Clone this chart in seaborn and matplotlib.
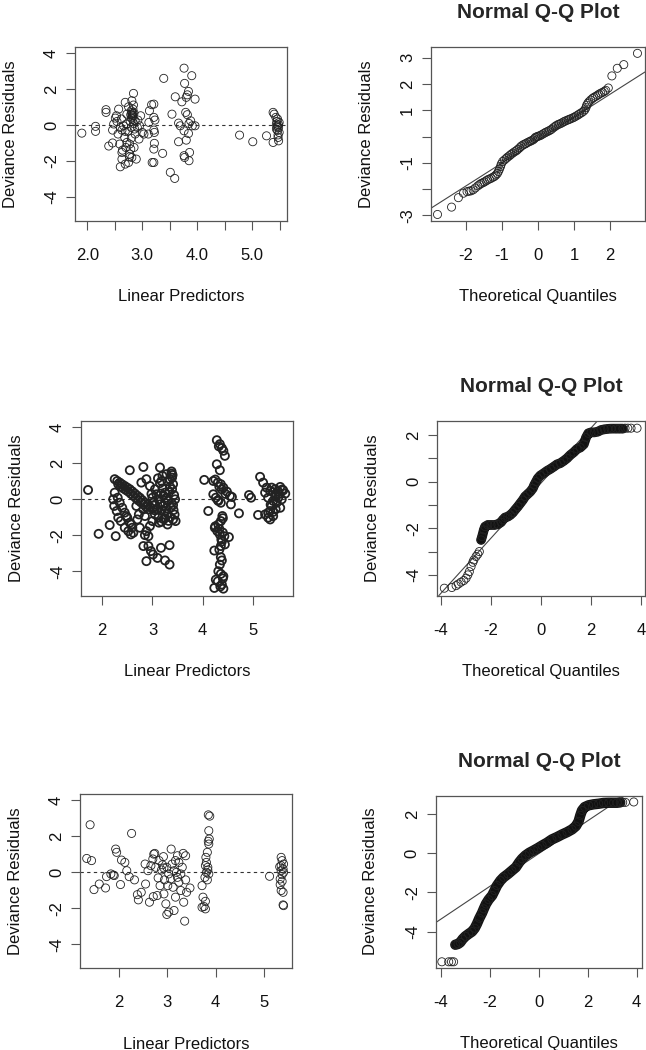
import matplotlib
matplotlib.use('Agg')
import matplotlib.pyplot as plt
import seaborn as sns

# ---------------- data ----------------
# row 1: deviance residuals vs linear predictors
lp1 = [1.90, 2.15, 2.15, 2.34, 2.34, 2.39, 2.46, 2.46, 2.48, 2.51, 2.53, 2.54, 2.56, 2.57,
       2.59, 2.60, 2.60, 2.62, 2.63, 2.63, 2.63, 2.64, 2.66, 2.68, 2.69, 2.69, 2.69, 2.70,
       2.71, 2.72, 2.72, 2.74, 2.75, 2.75, 2.77, 2.77, 2.77, 2.78, 2.79, 2.79, 2.80, 2.80,
       2.80, 2.80, 2.81, 2.81, 2.81, 2.81, 2.82, 2.82, 2.83, 2.83, 2.83, 2.83, 2.84, 2.84,
       2.84, 2.85, 2.85, 2.86, 2.87, 2.87, 2.89, 2.91, 2.92, 2.94, 2.95, 2.97, 3.00, 3.03,
       3.11, 3.12, 3.13, 3.17, 3.18, 3.21, 3.21, 3.21, 3.21, 3.21, 3.22, 3.22, 3.23, 3.37,
       3.39, 3.51, 3.54, 3.59, 3.60, 3.66, 3.66, 3.69, 3.72, 3.76, 3.76, 3.76, 3.77, 3.77,
       3.79, 3.80, 3.80, 3.82, 3.82, 3.84, 3.84, 3.85, 3.85, 3.86, 3.88, 3.90, 3.91, 3.96,
       3.96, 4.77, 5.01, 5.26, 5.38, 5.38, 5.40, 5.43, 5.44, 5.44, 5.45, 5.46, 5.46, 5.47,
       5.48, 5.48, 5.49, 5.49, 5.46, 5.47, 5.45, 5.48]
res1 = [-0.45, -0.07, -0.35, 0.86, 0.71, -1.17, -1.00, -0.28, 0.06, 0.39, 0.52, 0.20, -0.50, 0.89,
        -1.06, -0.13, -2.33, 0.34, -1.90, -1.53, -0.28, -1.40, -0.04, -0.69, 1.27, -0.35, -2.18, -1.25,
        0.06, 0.61, -0.97, -0.35, -2.09, 1.02, -1.62, -1.06, -1.77, 0.20, -1.34, 0.58, 0.80, 0.39,
        -0.73, -0.13, 1.36, 0.61, 0.71, -1.81, 0.45, 0.55, 0.52, 0.34, 0.89, 0.65, 1.77, 1.12,
        0.09, 0.67, -1.25, -0.22, -0.50, 0.24, -1.90, -0.13, 0.28, -0.78, -0.04, 0.52, -0.41, -0.50,
        -0.50, 0.15, 0.80, 1.14, -2.09, 1.17, 0.43, -0.28, -1.34, -2.09, -0.41, -1.02, 0.28, -1.58,
        2.61, -2.64, 0.61, -2.98, 1.58, -0.93, 0.11, -0.04, 1.30, 3.18, -0.32, -1.71, 2.33, -1.81,
        0.71, 1.55, -0.84, 1.69, 0.58, 1.88, -0.47, 0.09, -1.99, -1.53, 0.24, 2.76, -0.04, 1.45,
        -0.04, -0.56, -0.93, -0.60, 0.71, -0.97, 0.61, 0.43, 0.06, -0.22, 0.20, 0.34, -0.04, -0.69,
        -0.88, -0.13, -0.41, 0.15, -0.30, -0.55, -0.10, 0.02]

# row 2
lp2 = [1.72, 1.93, 2.15, 2.27, 2.22, 2.24, 2.29, 2.32, 2.37, 2.45, 2.52, 2.48, 2.58, 2.62, 2.75,
       2.25, 2.35, 2.45, 2.55, 2.65, 2.75, 2.85, 2.95, 3.04,
       2.32, 2.42, 2.52, 2.62, 2.72, 2.82, 2.92,
       2.25, 2.31, 2.35, 2.40, 2.45, 2.50, 2.55, 2.60, 2.57,
       2.55, 2.82, 2.88, 2.78, 2.95, 3.15, 3.11, 3.18, 3.38, 3.39, 3.41, 3.39, 3.43, 3.45, 3.41,
       3.35, 3.41, 3.46, 3.30, 3.05, 3.08, 3.12, 3.15, 3.10, 3.05, 3.12, 3.18, 3.00, 2.95, 2.88,
       2.92, 2.85, 3.25, 3.28, 3.21, 3.26, 3.31, 3.17, 3.00, 3.02, 2.82, 2.92, 2.97, 3.01, 3.10,
       2.88, 3.25, 3.34, 3.34, 3.17, 2.70, 2.73, 2.85, 2.82, 2.68,
       3.20, 3.22, 3.25, 3.28, 3.30, 3.18, 3.15, 3.35, 3.33, 3.38, 3.36, 3.30, 3.20, 3.42, 3.44,
       3.05, 3.08, 3.13, 3.22, 2.98, 3.35, 3.38, 3.40, 3.28, 3.25, 3.32,
       2.30, 2.40, 2.50, 2.60, 2.70, 2.80, 2.90, 3.00, 2.37, 2.47, 2.57, 2.67, 2.77, 2.87,
       4.03, 4.11, 4.28, 4.34, 4.38, 4.41, 4.44, 4.28, 4.34, 4.21, 4.30, 4.36, 4.41, 4.48, 4.54,
       4.58, 4.21, 4.26, 4.31, 4.36, 4.56, 4.72, 4.39, 4.36, 4.31, 4.24, 4.29, 4.34, 4.43, 4.52,
       4.37, 4.44, 4.36, 4.23, 4.36, 4.34, 4.31, 4.36, 4.41, 4.26, 4.30, 4.23, 4.41, 4.38,
       4.25, 4.33, 4.40, 4.38, 4.33, 4.38, 4.40, 4.35, 4.32, 4.25, 4.33, 4.38, 4.45, 4.30, 4.40,
       4.92, 4.96, 5.14, 5.20, 5.27, 5.34, 5.44, 5.54, 5.60, 5.64, 5.50, 5.40, 5.37, 5.34, 5.40,
       5.30, 5.24, 5.10, 5.54, 5.47, 5.57, 5.30, 5.24, 5.37, 5.44, 5.50, 5.34,
       5.45, 5.52, 5.40, 5.35, 5.45, 5.30, 5.58, 5.40]
res2 = [0.52, -1.92, -1.43, -2.05, 0.00, -0.37, -0.65, -1.02, -1.21, -1.58, -1.77, -0.93, -1.40, -1.86, -1.58,
        1.12, 0.93, 0.74, 0.56, 0.32, 0.09, -0.19, -0.43, -0.61,
        0.84, 0.61, 0.43, 0.19, -0.06, -0.28, -0.56,
        0.37, 0.09, -0.19, -0.47, -0.74, -1.02, -1.30, -1.58, -1.95,
        1.62, 1.80, 1.12, 0.93, 0.74, 1.77, 1.17, 1.02, 1.43, 1.21, 0.84, 0.56, 0.24, 0.00, -0.32,
        -0.99, -1.12, -1.21, -1.40, 0.56, 0.28, 0.00, -0.28, -0.56, -0.84, -1.02, -1.25, -1.21, -1.49, -1.77,
        -2.05, -1.99, 0.37, 0.09, -0.37, -0.65, -0.09, 0.32, 0.09, -0.19, -2.60, -2.60, -2.88, -3.07, -3.26,
        -3.44, -3.40, -3.63, -2.55, -2.70, -1.12, -0.84, -0.93, -0.56, -0.37,
        0.60, 0.20, -0.20, -0.50, -0.80, -0.60, 0.90, 0.70, 0.40, -0.20, -0.45, 1.00, 1.30, -0.60, -0.85,
        -0.30, -0.55, -1.30, -1.10, 0.30, 1.10, 1.55, 1.35, 1.40, -1.05, -1.20,
        1.02, 0.83, 0.65, 0.44, 0.20, -0.05, -0.31, -0.52, 0.72, 0.52, 0.31, 0.07, -0.17, -0.42,
        1.08, -0.65, 3.29, 3.07, 2.85, 2.70, 2.42, 1.95, 1.62, 1.02, 0.93, 0.84, 0.65, 0.43, 0.19,
        0.13, 0.28, 0.09, -0.09, -0.19, -0.28, -0.78, -0.93, -1.21, -1.40, -1.58, -1.77, -1.95, -2.05, -2.10,
        -2.23, -2.51, -2.60, -2.85, -3.22, -3.63, -4.00, -4.15, -4.28, -4.47, -4.56, -4.93, -4.97, -4.74,
        -1.50, -1.65, -1.85, -2.35, -2.80, -3.40, -4.40, -4.85, 2.95, 1.10, 0.70, 0.55, 0.30, -0.05, -1.05,
        0.24, 0.09, 1.25, 0.93, 0.65, 0.47, 0.28, 0.69, 0.50, 0.32, 0.09, -0.09, -0.37, -0.65, -0.93,
        -1.02, -0.84, -0.87, -0.47, -0.19, 0.00, 0.09, 0.37, 0.65, 0.56, 0.43, -1.12,
        0.15, 0.30, 0.40, -0.30, -0.55, -0.75, 0.55, -0.70]

# row 3
lp3 = [1.40, 1.33, 1.43, 1.48, 1.59, 1.72, 1.74, 1.83, 1.88, 1.90, 1.93, 1.95, 2.03, 2.05, 2.12,
       2.16, 2.21, 2.26, 2.32, 2.38, 2.40, 2.46, 2.54, 2.55, 2.60, 2.63, 2.66, 2.70, 2.72, 2.74,
       2.76, 2.71, 2.79, 2.81, 2.85, 2.88, 2.92, 2.93, 2.94, 2.97, 2.99, 3.03, 3.08, 3.10, 3.12,
       3.14, 3.17, 3.21, 3.19, 3.21, 3.24, 3.28, 3.31, 3.33, 3.34, 3.36, 3.38, 3.38, 3.40, 3.47,
       2.99, 3.03, 3.07, 3.14, 3.24, 3.28, 2.83, 2.90, 3.01, 3.17, 2.93,
       3.85, 3.88, 3.86, 3.87, 3.85, 3.86, 3.83, 3.81, 3.79, 3.84, 3.81, 3.86, 3.78, 3.83, 3.72,
       3.74, 3.79, 3.72, 3.79, 3.76, 3.84, 3.80,
       5.12, 5.36, 5.38, 5.36, 5.40, 5.36, 5.41, 5.38, 5.34, 5.38, 5.34, 5.36, 5.40, 5.40, 5.41,
       5.33, 5.41]
res3 = [2.64, 0.77, 0.65, -0.96, -0.65, -0.87, -0.24, -0.09, -0.15, -0.18, 1.29, 1.11, -0.68, 0.68, 0.55,
        0.09, -0.24, 2.16, -0.42, -1.24, -1.53, -1.11, 0.46, -0.65, 0.09, -1.66, 0.37, 0.74, 1.01, 1.05,
        0.28, -1.35, -1.29, -0.31, -0.74, 0.13, 0.87, 0.24, -0.42, -1.75, -2.34, -2.21, 1.29, 0.46, -0.83,
        -2.12, 0.65, 0.92, 0.00, -0.28, -0.55, -1.01, 0.28, 1.05, -1.66, -2.71, 0.92, -0.42, -1.11, -0.87,
        0.28, -0.09, -0.37, 0.09, 0.55, -0.09, 0.65, 0.42, -0.74, -1.38, -1.20,
        3.19, 3.12, 2.31, 1.85, 1.72, 1.57, 1.11, 0.55, 0.37, 0.13, 0.00, -0.09, -0.28, -0.42, -0.74,
        -1.38, -1.61, -1.94, -2.03, -1.90, 0.28, 0.83,
        -0.22, 0.83, 0.65, 0.37, 0.18, 0.09, 0.00, -0.13, -0.37, -0.50, -0.68, -1.01, -1.11, -1.81, -1.85,
        0.31, 0.46]

# normal Q-Q plots: theoretical quantile / sorted residual pairs
qq1_x = [-2.79, -2.40, -2.21, -2.07, -1.97, -1.91, -1.86, -1.80, -1.74, -1.67, -1.62, -1.58, -1.53,
         -1.49, -1.44, -1.40, -1.35, -1.30, -1.25, -1.21, -1.17, -1.13, -1.10, -1.07, -1.04, -1.02,
         -0.98, -0.93, -0.88, -0.84, -0.79, -0.75, -0.70, -0.65, -0.60, -0.56, -0.51, -0.47, -0.42,
         -0.37, -0.33, -0.28, -0.23, -0.19, -0.14, -0.10, -0.07, -0.03, 0.00, 0.05, 0.09, 0.14, 0.19,
         0.23, 0.28, 0.32, 0.37, 0.42, 0.47, 0.51, 0.56, 0.60, 0.65, 0.70, 0.74, 0.79, 0.84, 0.88,
         0.93, 0.98, 1.02, 1.07, 1.12, 1.16, 1.21, 1.26, 1.30, 1.33, 1.35, 1.38, 1.41, 1.46, 1.51,
         1.55, 1.60, 1.65, 1.69, 1.74, 1.79, 1.84, 1.88, 1.95, 2.05, 2.20, 2.38, 2.76]
qq1_y = [-2.97, -2.69, -2.33, -2.16, -2.10, -2.08, -2.07, -2.03, -1.96, -1.88, -1.83, -1.79, -1.76,
         -1.73, -1.69, -1.65, -1.62, -1.59, -1.55, -1.52, -1.47, -1.41, -1.33, -1.24, -1.14, -1.05,
         -0.95, -0.89, -0.83, -0.78, -0.73, -0.68, -0.63, -0.58, -0.54, -0.49, -0.43, -0.37, -0.32,
         -0.29, -0.26, -0.22, -0.19, -0.16, -0.13, -0.08, -0.03, -0.01, 0.01, 0.03, 0.06, 0.10, 0.14,
         0.17, 0.20, 0.23, 0.27, 0.33, 0.38, 0.42, 0.46, 0.48, 0.51, 0.55, 0.58, 0.61, 0.64, 0.66,
         0.69, 0.72, 0.75, 0.79, 0.83, 0.87, 0.91, 0.96, 1.02, 1.10, 1.19, 1.26, 1.32, 1.39, 1.45,
         1.49, 1.53, 1.57, 1.61, 1.65, 1.68, 1.72, 1.76, 1.85, 2.31, 2.60, 2.74, 3.17]

qq2_x = [-3.87, -3.57, -3.40, -3.31, -3.20, -3.09, -3.00, -2.93, -2.87, -2.80, -2.73, -2.69, -2.60,
         -2.53, -2.47, -2.40, -2.36, -2.29, -2.24, -2.13, -2.00, -1.87, -1.73, -1.60, -1.53, -1.44,
         -1.33, -1.23, -1.13, -1.04, -0.93, -0.83, -0.73, -0.64, -0.53, -0.43, -0.33, -0.27, -0.20,
         -0.13, -0.03, 0.11, 0.24, 0.37, 0.51, 0.64, 0.77, 0.91, 1.04, 1.17, 1.31, 1.44, 1.57, 1.71,
         1.80, 1.89, 2.00, 2.13, 2.27, 2.40, 2.53, 2.67, 2.80, 3.00, 3.13, 3.27, 3.36, 3.47, 3.60, 3.84]
qq2_y = [-4.57, -4.54, -4.46, -4.39, -4.31, -4.24, -4.14, -4.00, -3.86, -3.64, -3.46, -3.36, -3.21,
         -3.11, -3.00, -2.50, -2.36, -2.07, -1.93, -1.86, -1.86, -1.86, -1.83, -1.74, -1.64, -1.54,
         -1.50, -1.43, -1.33, -1.21, -1.07, -0.93, -0.79, -0.64, -0.53, -0.43, -0.29, -0.14, 0.00,
         0.14, 0.26, 0.36, 0.46, 0.54, 0.64, 0.74, 0.79, 0.89, 1.00, 1.14, 1.26, 1.40, 1.46, 1.60,
         1.89, 2.07, 2.11, 2.11, 2.14, 2.21, 2.24, 2.26, 2.27, 2.27, 2.27, 2.27, 2.29, 2.29, 2.29, 2.29]

qq3_x = [-3.95, -3.67, -3.56, -3.47, -3.40, -3.29, -3.20, -3.10, -2.99, -2.86, -2.72, -2.61, -2.52,
         -2.42, -2.31, -2.24, -2.15, -2.04, -1.90, -1.80, -1.70, -1.56, -1.43, -1.25, -1.09, -0.93,
         -0.79, -0.68, -0.54, -0.38, -0.20, -0.03, 0.14, 0.34, 0.54, 0.75, 0.95, 1.16, 1.36, 1.52,
         1.63, 1.70, 1.77, 1.88, 2.04, 2.24, 2.45, 2.65, 2.86, 3.06, 3.20, 3.33, 3.43, 3.54, 3.88]
qq3_y = [-5.54, -5.54, -5.54, -5.54, -4.67, -4.63, -4.55, -4.38, -4.24, -4.12, -4.00, -3.83, -3.61,
         -3.32, -3.05, -2.84, -2.59, -2.37, -2.16, -1.91, -1.65, -1.40, -1.23, -1.06, -0.89, -0.72,
         -0.46, -0.29, -0.12, 0.02, 0.14, 0.26, 0.39, 0.53, 0.70, 0.82, 0.95, 1.07, 1.21, 1.38,
         1.62, 1.93, 2.18, 2.35, 2.44, 2.49, 2.52, 2.56, 2.57, 2.57, 2.57, 2.59, 2.59, 2.59, 2.61]

# qqline (intercept, slope)
qq_lines = [(-0.135, 0.874), (-0.06, 1.18), (-0.025, 0.837)]

# ---------------- style ----------------
sns.set_style('ticks')
plt.rcParams['font.family'] = ['Liberation Sans', 'DejaVu Sans']

EDGE = '#555555'
FS = 12
PT = dict(s=34, facecolor='none', edgecolor='#222222', linewidth=0.6, marker='o', legend=False)


def r_axes(ax, xlim, ylim, xticks, xlabels, yticks, ylabels, xlab, title=None):
    ax.set_xlim(xlim)
    ax.set_ylim(ylim)
    ax.set_xticks(xticks)
    ax.set_xticklabels(xlabels)
    ax.set_yticks(yticks)
    ax.set_yticklabels(ylabels, rotation=90, va='center')
    ax.tick_params(direction='out', length=6.5, width=0.8, color=EDGE, labelsize=FS,
                   labelcolor='#111111')
    ax.tick_params(axis='x', pad=13)
    ax.tick_params(axis='y', pad=5)
    for sp in ax.spines.values():
        sp.set_visible(True)
        sp.set_color(EDGE)
        sp.set_linewidth(0.9)
    ax.set_xlabel(xlab, fontsize=FS, labelpad=19, color='#111111')
    ax.set_ylabel('Deviance Residuals', fontsize=FS, labelpad=19, color='#111111')
    if title:
        ax.set_title(title, fontsize=15, fontweight='bold', pad=21)


fig = plt.figure(figsize=(6.46, 10.5), dpi=100)

# axes rectangles (figure fractions)
pos = {
    'tl': [0.1161, 0.7895, 0.3282, 0.1657],
    'tr': [0.6672, 0.7895, 0.3313, 0.1657],
    'ml': [0.1254, 0.4327, 0.3286, 0.1664],
    'mr': [0.6770, 0.4327, 0.3215, 0.1664],
    'bl': [0.1238, 0.0778, 0.3286, 0.1657],
    'br': [0.6745, 0.0784, 0.3198, 0.1638],
}

left_sets = [('tl', lp1, res1, 0.6), ('ml', lp2, res2, 1.3), ('bl', lp3, res3, 0.6)]
for key, x, y, lw in left_sets:
    ax = fig.add_axes(pos[key])
    ax.axhline(0, color='#333333', lw=0.8, ls=(0, (3, 3)), zorder=1)
    kw = dict(PT)
    kw['linewidth'] = lw
    sns.scatterplot(x=x, y=y, ax=ax, **kw)

    if key == 'tl':
        r_axes(ax, (1.776, 5.633), (-5.36, 4.36),
               [2.0, 2.5, 3.0, 3.5, 4.0, 4.5, 5.0, 5.5],
               ['2.0', '', '3.0', '', '4.0', '', '5.0', ''],
               [-4, -2, 0, 2, 4], ['-4', '-2', '0', '2', '4'], 'Linear Predictors')
    elif key == 'ml':
        r_axes(ax, (1.58, 5.80), (-5.36, 4.36), [2, 3, 4, 5], ['2', '3', '4', '5'],
               [-4, -2, 0, 2, 4], ['-4', '-2', '0', '2', '4'], 'Linear Predictors')
    else:
        r_axes(ax, (1.19, 5.59), (-5.33, 4.33), [2, 3, 4, 5], ['2', '3', '4', '5'],
               [-4, -2, 0, 2, 4], ['-4', '-2', '0', '2', '4'], 'Linear Predictors')

# (start, stop) of the dense stretch in each Q-Q sample, and how heavy it is drawn
qq_sets = [('tr', qq1_x, qq1_y, (22, 78), 2.5, 0.55),
           ('mr', qq2_x, qq2_y, (15, 66), 7.0, 1.0),
           ('br', qq3_x, qq3_y, (4, 52), 7.5, 1.0)]
for i, (key, x, y, band, blw, balpha) in enumerate(qq_sets):
    ax = fig.add_axes(pos[key])
    b, m = qq_lines[i]
    ax.axline((0, b), slope=m, color='#444444', lw=0.8, zorder=1)
    # dense part of the sample: many overlapping circles -> dark band
    ax.plot(x[band[0]:band[1]], y[band[0]:band[1]], color='#111111', lw=blw, alpha=balpha,
            solid_capstyle='round', solid_joinstyle='round', zorder=2)
    sns.scatterplot(x=x, y=y, ax=ax, zorder=3, **PT)

    if key == 'tr':
        r_axes(ax, (-2.97, 2.97), (-3.22, 3.41), [-2, -1, 0, 1, 2],
               ['-2', '-1', '0', '1', '2'], [-3, -2, -1, 0, 1, 2, 3],
               ['-3', '', '-1', '', '1', '2', '3'], 'Theoretical Quantiles', 'Normal Q-Q Plot')
    elif key == 'mr':
        r_axes(ax, (-4.15, 4.16), (-4.89, 2.60), [-4, -2, 0, 2, 4],
               ['-4', '-2', '0', '2', '4'], [-4, -3, -2, -1, 0, 1, 2],
               ['-4', '', '-2', '', '0', '', '2'], 'Theoretical Quantiles', 'Normal Q-Q Plot')
    else:
        r_axes(ax, (-4.20, 4.23), (-5.84, 2.93), [-4, -2, 0, 2, 4],
               ['-4', '-2', '0', '2', '4'], [-4, -2, 0, 2],
               ['-4', '-2', '0', '2'], 'Theoretical Quantiles', 'Normal Q-Q Plot')

fig.savefig('out.png', dpi=100, facecolor='white')
